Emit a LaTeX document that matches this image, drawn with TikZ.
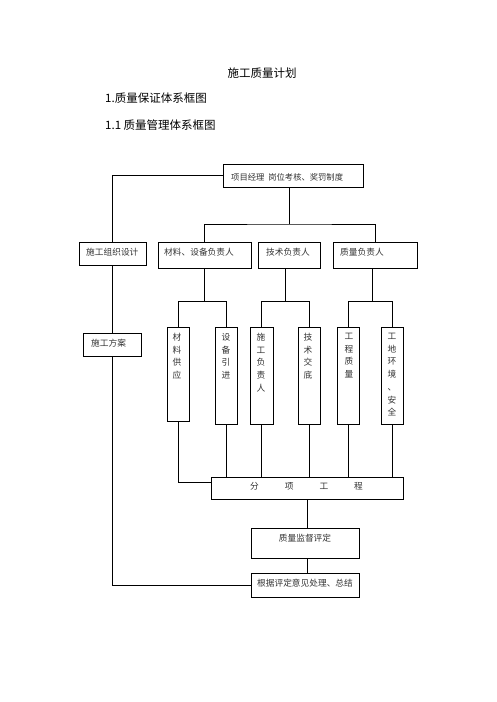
\documentclass[tikz,border=0pt]{standalone}
\usepackage{fontspec}
\setmainfont{Liberation Serif}
\newfontfamily\cjk{Noto Sans CJK SC}
\begin{document}
\begin{tikzpicture}[x=1pt,y=-1pt,
  box/.style={draw,line width=0.8pt,inner sep=0pt},
  conn/.style={line width=0.8pt},
  head/.style={inner sep=0pt,font=\cjk\fontsize{11.5}{13}\selectfont},
  txt/.style={inner sep=0pt,text=black!80,font=\cjk\fontsize{8.7}{10}\selectfont},
  vtxt/.style={inner sep=0pt,anchor=north,align=center,text=black!80,font=\cjk\fontsize{8.7}{12.7}\selectfont}
]
\fill[white] (0,0) rectangle (496,702);
\useasboundingbox (0,0) rectangle (496,702);

% headings
\node[head] (title) at (262,73) {施工质量计划};
\node[head,anchor=west] (h1) at (105,98) {1.质量保证体系框图};
\node[head,anchor=west] (h2) at (105,125) {1.1 质量管理体系框图};

% top box
\node[box,minimum width=140pt,minimum height=23pt] (tb) at (293,175.5) {};
\node[txt,anchor=west,font=\cjk\fontsize{8.3}{10}\selectfont] (tbt) at (231,177) {项目经理\hspace{4pt}岗位考核、奖罚制度};

% second row
\node[box,minimum width=67pt,minimum height=23pt] (org) at (112.5,253.5) {};
\node[txt,anchor=west] (orgt) at (86,252) {施工组织设计};
\node[box,minimum width=93pt,minimum height=26pt] (mat) at (204.5,255) {};
\node[txt,anchor=west] (matt) at (164,252) {材料、设备负责人};
\node[box,minimum width=62pt,minimum height=26pt] (tech) at (289,255) {};
\node[txt,anchor=west] (techt) at (266,252) {技术负责人};
\node[box,minimum width=84pt,minimum height=26pt] (qual) at (375,255) {};
\node[txt,anchor=west] (qualt) at (340,252) {质量负责人};

% plan
\node[box,minimum width=58pt,minimum height=23pt] (plan) at (112,344.5) {};
\node[txt,anchor=west] (plant) at (91,343) {施工方案};

% tall boxes
\node[box,minimum width=22pt,minimum height=94pt] (s1) at (178,374) {};
\node[box,minimum width=22pt,minimum height=97pt] (s2) at (226,375.5) {};
\node[box,minimum width=23pt,minimum height=97pt] (s3) at (261.5,375.5) {};
\node[box,minimum width=22pt,minimum height=97pt] (s4) at (309,375.5) {};
\node[box,minimum width=22pt,minimum height=97pt] (s5) at (348,375.5) {};
\node[box,minimum width=22pt,minimum height=97pt] (s6) at (392,375.5) {};
\node[vtxt] (s1t) at (177,333) {材\\料\\供\\应};
\node[vtxt] (s2t) at (226,333) {设\\备\\引\\进};
\node[vtxt] (s3t) at (261,333) {施\\工\\负\\责\\人};
\node[vtxt] (s4t) at (308,333) {技\\术\\交\\底};
\node[vtxt] (s5t) at (349,333) {工\\程\\质\\量};
\node[vtxt] (s6t) at (392,333) {工\\地\\环\\境\\、\\安\\全};

% bottom
\node[box,minimum width=192pt,minimum height=22pt] (fx) at (307,488) {};
\node[txt] (fxt) at (306.5,486) {分\hspace{26pt}项\hspace{26pt}工\hspace{26pt}程};
\node[box,minimum width=108pt,minimum height=30pt] (eval) at (305,543) {};
\node[txt] (evalt) at (305,538) {质量监督评定};
\node[box,minimum width=108pt,minimum height=24pt] (sum) at (305,585) {};
\node[txt] (sumt) at (305,583) {根据评定意见处理、总结};

% connectors
\coordinate (bus1) at (289,224);
\coordinate (bus2) at (0,301);
\draw[conn] (tb.west) -| (org.north);
\draw[conn] (org.south) -- (org.south |- plan.north);
\draw[conn] (plan.south) |- (sum.west);
\draw[conn] (tb.south -| tech.north) -- (bus1);
\draw[conn] (mat.north) |- (bus1) -| (qual.north);

\draw[conn] (mat.south) -- (mat.south |- bus2);
\draw[conn] (s1.north) |- (s2.north |- bus2) -- (s2.north);
\draw[conn] ([xshift=-4pt]tech.south) -- ([xshift=-4pt]tech.south |- bus2);
\draw[conn] (s3.north) |- (s4.north |- bus2) -- (s4.north);
\draw[conn] ([xshift=-3pt]qual.south) -- ([xshift=-3pt]qual.south |- bus2);
\draw[conn] (s5.north) |- (s6.north |- bus2) -- (s6.north);

\draw[conn] (s1.south) |- ([yshift=6pt]fx.west);
\draw[conn] (s2.south) -- (s2.south |- fx.north);
\draw[conn] (s3.south) -- (s3.south |- fx.north);
\draw[conn] (s4.south) -- (s4.south |- fx.north);
\draw[conn] (s5.south) -- (s5.south |- fx.north);
\draw[conn] (s6.south) -- (s6.south |- fx.north);
\draw[conn] (fx.south) -- (fx.south |- eval.north);
\draw[conn] (fx.south |- eval.south) -- (fx.south |- sum.north);
\end{tikzpicture}
\end{document}
